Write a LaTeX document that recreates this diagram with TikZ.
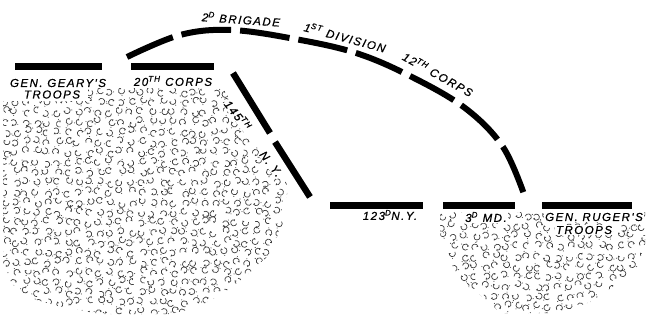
\documentclass[tikz,border=0pt]{standalone}
\usepackage{fontspec}
\newfontfamily\mapfont[LetterSpace=13,FakeBold=0.8]{Liberation Sans}
\tikzset{
  frontline/.style={line width=7pt},
  brigade/.style={line width=6pt, dash pattern=on 50pt off 9pt},
  troop/.style={line width=0.7pt, black!75},
  maplabel/.style={font=\mapfont\itshape\fontsize{11.5}{12}\selectfont, inner sep=1pt},
  onmarks/.style={maplabel, fill=white}
}

\begin{document}
\begin{tikzpicture}[x=1pt, y=-1pt]
			%%%%% START %%%%%
			\useasboundingbox (0,0) rectangle (646,324);
			\pgfmathsetseed{1863}
			
			% troops, left
			\begin{scope}
			\clip (3,101) -- (88,101) -- (88,88) -- (224,88) -- (244,132) -- (262,152) -- (288,185)
			  -- (284,222) -- (268,256) -- (246,276) -- (222,294) -- (196,308) -- (170,314)
			  -- (100,314) -- (58,306) -- (30,298) -- (12,284) -- (3,262) -- cycle;
			\foreach \i in {0,...,27}{
			  \foreach \j in {0,...,22}{
			    \pgfmathsetmacro{\mx}{5+10.5*\i+2.5*rand}
			    \pgfmathsetmacro{\my}{92+10*\j+2.5*rand}
			    \pgfmathsetmacro{\ma}{360*rnd}
			    \pgfmathsetmacro{\md}{210+90*rnd}
			    \draw[troop] (\mx,\my) ++(\ma:3.1) arc[start angle=\ma, delta angle=\md, radius=3.1] -- ++(\ma+\md+180:1.4);
			    \fill[black!75] (\mx,\my) ++(\ma+140+60*rand:4.8) circle (0.55);
			  }
			}
			\end{scope}
			
			% troops, right
			\begin{scope}
			\clip (440,212) -- (645,212) -- (645,244) -- (637,267) -- (617,284) -- (590,302)
			  -- (560,313) -- (500,313) -- (487,300) -- (463,283) -- (453,267) -- (440,234) -- cycle;
			\foreach \i in {0,...,19}{
			  \foreach \j in {0,...,10}{
			    \pgfmathsetmacro{\mx}{443+10.5*\i+2.5*rand}
			    \pgfmathsetmacro{\my}{216+10*\j+2.5*rand}
			    \pgfmathsetmacro{\ma}{360*rnd}
			    \pgfmathsetmacro{\md}{210+90*rnd}
			    \draw[troop] (\mx,\my) ++(\ma:3.1) arc[start angle=\ma, delta angle=\md, radius=3.1] -- ++(\ma+\md+180:1.4);
			    \fill[black!75] (\mx,\my) ++(\ma+140+60*rand:4.8) circle (0.55);
			  }
			}
			\end{scope}
			
			% lines
			\draw[frontline] (15,66.5) -- (102,66.5);
			\draw[frontline] (131,66.5) -- (214,66.5);
			\draw[line width=6.5pt] (233,73) -- (270,133);
			\draw[line width=6.5pt] (275,142) -- (310,197);
			\draw[frontline] (330,205.5) -- (423,205.5);
			\draw[frontline] (443,205.5) -- (515,205.5);
			\draw[frontline] (542,205.5) -- (632,205.5);
			
			\draw[brigade] plot[smooth, tension=0.6] coordinates {(127,57) (180,35) (231,30) (295,39) (356,53) (410,76) (465,108) (503,147) (525,197)};
			
			% labels
			\node[onmarks] (geary) at (58,83) {GEN. GEARY'S};
			\node[onmarks] (gearytroops) at (52,94.5) {TROOPS};
			\node[onmarks] (corpsA) at (173,81) {20\textsuperscript{TH} CORPS};
			\node[onmarks, rotate=-52] (nyA) at (238,115) {145\textsuperscript{TH}};
			\node[onmarks, rotate=-52] (nyB) at (271,164) {N. Y.};
			\node[maplabel] (nyC) at (390,215) {123\textsuperscript{D}N.Y.};
			\node[onmarks] (md) at (486,217) {3\textsuperscript{D} MD.};
			\node[onmarks] (ruger) at (594,217) {GEN. RUGER'S};
			\node[onmarks] (rugertroops) at (584,230) {TROOPS};
			
			\node[maplabel, rotate=-4] (brig) at (241,19) {2\textsuperscript{D} BRIGADE};
			\node[maplabel, rotate=-15] (div) at (345,37) {1\textsuperscript{ST} DIVISION};
			\node[maplabel, rotate=-29] (corpsB) at (438,74) {12\textsuperscript{TH} CORPS};
			%%%%% END %%%%%
\end{tikzpicture}
\end{document}
